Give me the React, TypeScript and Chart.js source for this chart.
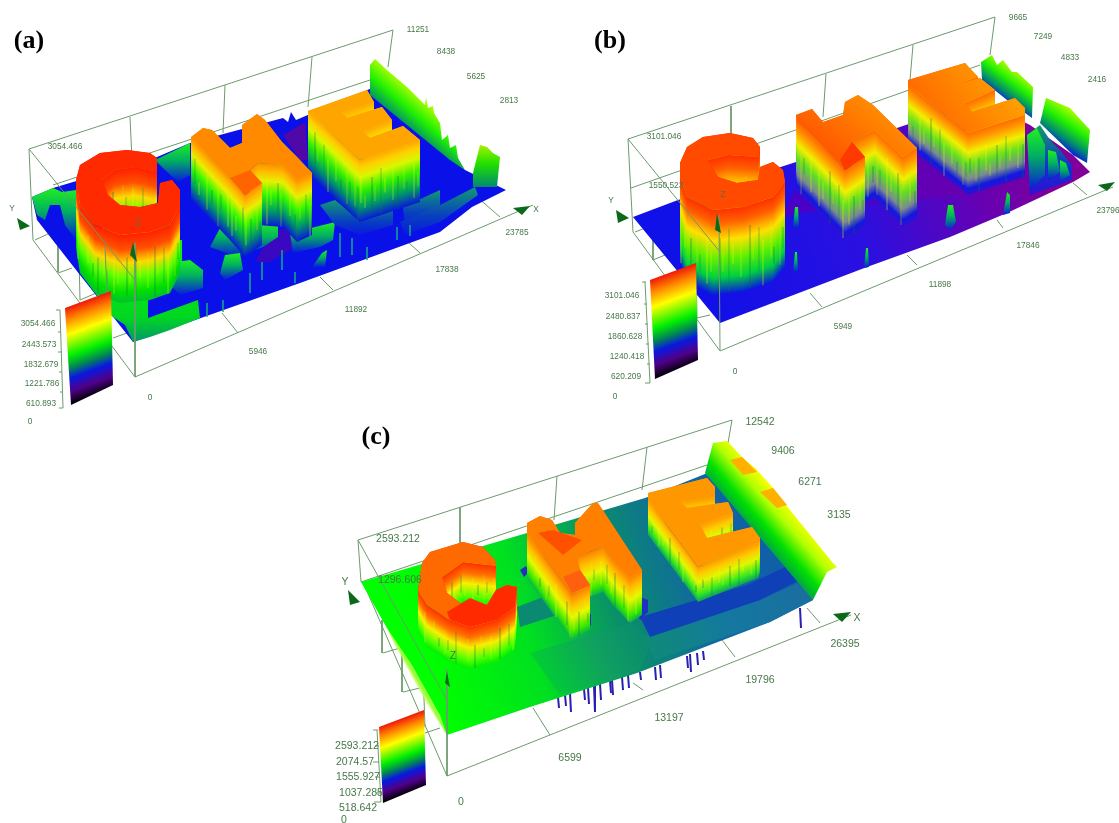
import React, { useEffect, useRef } from "react";
import { Chart, registerables } from "chart.js";
Chart.register(...registerables);

type P = number[];
const W = 1119, H = 823;

/* ---------- colour ramps ---------- */
const barStops: [number, string][] = [[0,"#f01808"],[.12,"#ff8000"],[.28,"#ffff00"],[.5,"#00f000"],[.62,"#008a50"],[.73,"#0818e0"],[.86,"#50008a"],[1,"#000000"]];
const greenBlue: [number, string][] = [[0,"#20f020"],[.45,"#00b060"],[1,"#0818e0"]];
const tealBlue: [number, string][] = [[0,"#109a70"],[.6,"#0840c0"],[1,"#0818e0"]];
const limeBlue: [number, string][] = [[0,"#b8ff00"],[.4,"#20f000"],[.75,"#008a70"],[1,"#0818e0"]];

const aCStops: [number, string][] = [[0,"#ff2000"],[.22,"#ff5000"],[.42,"#ffd800"],[.62,"#60ff00"],[.85,"#00e000"],[1,"#00c030"]];
const aHStops: [number, string][] = [[0,"#ff8c00"],[.12,"#ffb800"],[.28,"#e8f000"],[.5,"#30f800"],[.75,"#00a060"],[1,"#0818d8"]];
const aEStops: [number, string][] = [[0,"#ffa800"],[.12,"#ffd000"],[.28,"#d8f800"],[.5,"#30f000"],[.75,"#00a060"],[1,"#0818d8"]];
const bCStops: [number, string][] = [[0,"#ff3000"],[.15,"#ff6000"],[.36,"#ffe000"],[.58,"#60f000"],[.8,"#00d040"],[1,"#0818e0"]];
const bHStops: [number, string][] = [[0,"#ff6a00"],[.15,"#ffa000"],[.32,"#f0f000"],[.52,"#60e020"],[.75,"#7a8a90"],[.9,"#1018e0"],[1,"#3010d0"]];
const cCStops: [number, string][] = [[0,"#ff3000"],[.25,"#ff7000"],[.5,"#f8f000"],[.8,"#50ff00"],[1,"#00f000"]];
const cHStops: [number, string][] = [[0,"#ff8000"],[.25,"#ffc000"],[.5,"#e8f800"],[.85,"#30e800"],[1,"#10b050"]];
const cEStops: [number, string][] = [[0,"#ff9800"],[.2,"#ffc800"],[.45,"#e0f800"],[.8,"#30e820"],[1,"#10a060"]];

/* ---------- panel (a) ---------- */
const aWireBack: P[] = [[29,149,393,30],[53,185,370,80],[29,149,33,240],[130,117,132,160],[225,85,223,133],[312,57,308,107],[393,30,388,67],[33,240,135,377],[58,240,58,272],[35,240,50,233],[58,273,72,268],[80,300,115,285],[113,338,127,333],[78,213,80,300],[135,377,533,205],[222,313,238,333],[320,277,333,290],[408,242,420,253],[477,197,500,217]];
const aWireFront: P[] = [[29,149,135,280],[135,243,135,377],[105,247,107,293]];
const aBase: P[] = [[32,197],[53,188],[157,157],[190,143],[283,118],[288,122],[291,112],[296,120],[372,88],[465,170],[506,190],[472,207],[440,232],[300,283],[133,342],[80,275],[37,220]];
const aPurple1: P[] = [[270,235],[310,215],[315,235],[270,262],[255,262]];
const aPurple2: P[] = [[283,135],[305,122],[308,160],[300,160]];
const aBackGreen: P[] = [[32,197],[53,188],[62,192],[76,190],[76,240],[65,225],[60,205],[50,205],[45,220],[37,215]];
const aMidGreen: P[] = [[155,160],[190,143],[190,175],[178,182],[165,170]];
const aFrontGreen: P[] = [[76,240],[182,240],[182,262],[175,262],[165,285],[148,300],[148,318],[198,300],[200,318],[170,330],[150,337],[133,342],[125,325],[110,315],[90,285]];
const aRightWall: P[] = [[370,65],[375,59],[387,70],[407,87],[425,105],[426,97],[428,108],[433,106],[434,113],[440,123],[442,140],[448,135],[450,148],[456,145],[458,158],[465,170],[450,160],[370,95]];
const aSmallWall: P[] = [[473,187],[473,173],[480,145],[487,147],[493,153],[500,157],[497,187]];
const aRidge1: P[] = [[320,205],[335,200],[345,208],[370,217],[385,210],[393,208],[393,225],[360,235],[335,225]];
const aRidge2: P[] = [[400,222],[440,205],[475,187],[478,195],[440,222],[405,235]];
const aRidge3: P[] = [[403,207],[440,190],[440,215],[405,228]];
const aBumps: P[][] = [
  [[210,247],[220,228],[230,227],[242,233],[257,240],[262,223],[278,222],[278,237],[263,247],[237,257]],
  [[290,233],[303,230],[335,222],[333,240],[320,247],[293,253]],
  [[312,267],[322,253],[327,250],[325,267]],
  [[220,273],[225,255],[240,253],[243,270],[225,280]],
  [[170,285],[175,262],[190,260],[203,270],[203,288],[180,295]],
];
const aSpikes: P[] = [[340,233,257],[397,227,240],[367,247,260],[295,272,283],[250,273,293],[207,303,317],[223,300,312],[352,238,255],[410,225,236],[282,250,270],[262,262,280]];
const aCTop: P[] = [[76,180],[80,165],[100,153],[127,150],[150,153],[157,158],[157,172],[135,167],[115,170],[102,180],[108,195],[120,205],[140,207],[158,203],[160,183],[172,180],[180,190],[180,205],[170,225],[150,232],[120,235],[95,225],[80,205]];
const aHTop: P[] = [[191,137],[203,128],[212,130],[230,148],[242,143],[242,125],[257,114],[265,120],[282,142],[298,158],[312,173],[297,180],[283,165],[258,163],[250,170],[262,183],[245,195],[230,178]];
const aHPatch: P[] = [[230,178],[250,170],[262,183],[245,195]];
const aETop: P[] = [[308,111],[367,90],[374,102],[342,113],[347,118],[382,107],[392,120],[363,132],[370,138],[403,126],[420,140],[360,160],[352,153]];
const aColorBar: P[] = [[65,308],[111,291],[113,385],[71,405]];
const aBracket: P[] = [[60,310,63,408],[56,310,60,310],[58,332,61,332],[58,352,62,352],[59,372,62,372],[60,392,63,392],[59,408,63,408]];

/* ---------- panel (b) ---------- */
const bWireBack: P[] = [[628,139,995,17],[631,188,980,65],[628,139,633,232],[731,106,731,133],[826,74,823,117],[913,45,910,80],[995,17,990,55],[633,232,720,351],[653,217,653,260],[635,232,645,228],[653,260,665,255],[697,318,710,315],[695,217,697,318],[720,351,1113,187],[810,293,822,307],[907,255,917,265],[997,220,1003,228],[1073,183,1087,195]];
const bWireFront: P[] = [[628,139,720,252],[719,215,720,350]];
const bBase: P[] = [[633,217],[678,200],[793,163],[980,100],[1030,125],[1073,155],[1090,172],[1073,182],[1007,213],[950,237],[867,267],[720,323]];
const bPurple: P[] = [[783,215],[800,180],[1000,130],[1060,170],[1000,190]];
const bRight1: P[] = [[981,62],[992,55],[997,65],[1003,60],[1012,72],[1017,72],[1033,87],[1032,118],[1007,100],[982,80]];
const bRight2: P[] = [[1040,123],[1046,98],[1070,108],[1090,130],[1087,163],[1073,155]];
const bStairs: P[] = [[1027,135],[1040,125],[1050,140],[1060,150],[1072,165],[1072,180],[1030,195]];
const bBumps: P[][] = [
  [[720,285],[724,265],[733,262],[737,268],[737,283],[728,290]],
  [[793,228],[795,207],[798,207],[799,228]],
  [[793,272],[795,252],[797,252],[798,272]],
  [[864,268],[866,248],[868,248],[869,267]],
  [[945,225],[948,205],[953,205],[956,222],[950,230]],
  [[1003,215],[1007,192],[1010,195],[1010,213]],
  [[1027,135],[1037,128],[1045,145],[1045,175],[1030,190]],
  [[1048,150],[1056,152],[1060,172],[1048,180]],
  [[1060,160],[1066,163],[1070,175],[1060,182]],
];
const bCTop: P[] = [[680,163],[687,147],[703,137],[730,133],[753,138],[760,147],[758,157],[728,155],[708,160],[718,177],[737,183],[758,180],[760,167],[773,162],[783,170],[785,182],[773,197],[743,207],[713,210],[687,197],[680,177]];
const bHTop: P[] = [[796,115],[812,109],[823,122],[843,115],[845,102],[858,95],[873,105],[917,148],[903,157],[875,130],[852,142],[865,157],[845,170],[813,137],[797,122]];
const bHPatch: P[] = [[852,142],[865,157],[845,170],[840,160]];
const bETop: P[] = [[908,80],[965,63],[978,77],[947,87],[980,78],[995,90],[965,103],[972,112],[1015,98],[1025,108],[1025,115],[968,133],[908,85]];
const bColorBar: P[] = [[650,280],[696,263],[698,360],[655,379]];
const bBracket: P[] = [[645,282,650,383],[642,282,646,282],[644,304,647,304],[645,324,648,324],[646,344,649,344],[647,364,650,364],[645,383,650,383]];

/* ---------- panel (c) ---------- */
const cWireBack: P[] = [[358,540,732,420],[361,582,707,465],[358,540,361,582],[382,620,382,653],[460,507,460,545],[557,476,554,520],[647,447,642,490],[732,420,728,443],[363,582,447,776],[383,653,400,648],[403,692,420,688],[425,733,440,728],[402,620,402,692],[423,670,425,727],[447,776,851,615],[533,708,550,735],[633,683,643,690],[722,640,735,657],[807,608,820,623]];
const cWireFront: P[] = [[358,540,447,700],[447,670,447,776]];
const cBase: P[] = [[361,582],[527,533],[645,498],[710,472],[813,600],[770,622],[637,673],[530,707],[447,735]];
const cFade: P[] = [[385,625],[412,665],[440,715],[447,735],[425,700],[395,645]];
const cBlueStripe: P[] = [[640,617],[747,585],[785,567],[800,580],[760,600],[650,637]];
const cFrontStripe: P[] = [[643,637],[760,600],[800,582],[813,600],[770,622],[655,660]];
const cTeal1: P[] = [[517,607],[543,597],[557,615],[520,627]];
const cTeal2: P[] = [[530,653],[632,623],[652,640],[640,670],[560,695]];
const cTeal3: P[] = [[552,560],[620,538],[630,552],[562,575]];
const cRight: P[] = [[705,473],[713,443],[727,441],[743,458],[755,468],[775,490],[790,510],[833,563],[837,567],[827,572],[813,600]];
const cOrange1: P[] = [[730,460],[742,457],[757,472],[743,475]];
const cOrange2: P[] = [[760,492],[773,488],[787,505],[777,508]];
const cBlobs: P[][] = [
  [[520,570],[526,566],[529,572],[524,577]],
  [[637,610],[640,597],[648,600],[648,612],[640,620]],
  [[586,616],[591,614],[591,625],[586,626]],
];
const cCTop: P[] = [[418,590],[422,563],[430,552],[463,542],[483,547],[495,560],[496,566],[463,562],[442,577],[447,593],[463,605],[487,605],[496,590],[507,585],[517,587],[515,607],[497,620],[470,627],[450,620],[427,605]];
const cCPatch: P[] = [[447,612],[470,598],[487,605],[496,590],[507,585],[517,587],[515,607],[497,620],[470,627],[450,620]];
const cHTop: P[] = [[527,523],[540,516],[552,520],[560,533],[575,535],[575,523],[593,503],[598,503],[642,570],[630,578],[613,560],[603,547],[577,557],[580,570],[590,585],[572,595],[527,533]];
const cHPatch1: P[] = [[538,533],[553,530],[582,540],[563,555]];
const cHPatch2: P[] = [[563,577],[580,570],[590,585],[572,593]];
const cETop: P[] = [[648,493],[707,478],[715,487],[715,497],[680,502],[687,508],[728,502],[733,513],[700,525],[707,538],[752,527],[760,538],[758,543],[698,567],[648,500]];
const cColorBar: P[] = [[379,727],[424,710],[426,785],[383,803]];
const cBracket: P[] = [[377,730,381,802],[373,730,378,730],[375,746,379,746],[373,762,379,762],[375,777,380,777],[376,793,381,793],[374,802,381,802]];
const cSpikes: P[] = [[558,697,708],[565,695,706],[570,693,712],[584,689,700],[588,688,704],[594,686,712],[600,684,700],[610,680,693],[612,680,695],[622,677,690],[628,675,688],[640,672,680],[655,667,680],[660,665,678],[687,656,668],[690,654,672],[697,653,665],[703,651,660],[800,608,628]];

/* ---------- arrows, labels ---------- */
const arrows: P[][] = [
  [[513,208],[530,206],[522,215]],[[17,218],[30,226],[20,230]],[[133,242],[137,262],[130,255]],
  [[1098,185],[1115,182],[1107,191]],[[616,210],[629,218],[618,223]],[[717,213],[721,233],[715,230]],
  [[833,614],[851,612],[842,622]],[[348,590],[360,602],[350,605]],[[447,672],[450,687],[445,683]],
];
const titleLabels: [string, number, number][] = [["(a)",29,41],["(b)",610,41],["(c)",376,437]];
const hiddenLabels: [string, number, number][] = [["1527.233",66,194]];
const smallLabels: [string, number, number][] = [
  ["3054.466",65,147],["11251",418,30],["8438",446,52],["5625",476,77],["2813",509,101],["5946",258,352],["11892",356,310],["17838",447,270],["23785",517,233],["0",150,398],
  ["3054.466",38,324],["2443.573",39,345],["1832.679",41,365],["1221.786",42,384],["610.893",41,404],["0",30,422],["Y",12,209],["X",536,210],["Z",138,223],
  ["3101.046",664,137],["1550.523",666,186],["9665",1018,18],["7249",1043,37],["4833",1070,58],["2416",1097,80],["5949",843,327],["11898",940,285],["17846",1028,246],["23796",1108,211],["0",735,372],
  ["3101.046",622,296],["2480.837",623,317],["1860.628",625,337],["1240.418",627,357],["620.209",626,377],["0",615,397],["Y",611,201],["Z",723,195],
];
const largeLabels: [string, number, number][] = [
  ["2593.212",398,539],["1296.606",400,580],["12542",760,422],["9406",783,451],["6271",810,482],["3135",839,515],["26395",845,644],["19796",760,680],["13197",669,718],["6599",570,758],["0",461,802],
  ["2593.212",357,746],["2074.57",355,762],["1555.927",358,777],["1037.285",361,793],["518.642",358,808],["0",344,820],["X",857,618],["Y",345,582],["Z",453,656],
];

/* irregular streak rhythm seen on the letter walls */
const streakGap = [4, 7, 3, 6, 5, 8, 4, 6, 3, 7];
const streakFrom = [.3, .42, .24, .5, .34, .6, .28, .46];
const streakTo = [.82, .66, .98, .74, .9, .8, .7, 1];
const streakCol = ["rgba(240,255,0,.3)", "rgba(0,130,60,.26)", "rgba(255,230,0,.22)", "rgba(0,110,70,.3)", "rgba(200,255,0,.3)"];

/* ---------- helpers turning the arrays into datasets ---------- */
type Paint = string | { g: number[]; stops: [number, string][] };
const ds: any[] = [];

function poly(pts: P[], paint: Paint) {
  const data = [...pts, pts[0]].map(([x, y]) => ({ x, y }));
  ds.push({
    data, showLine: true, pointRadius: 0, borderWidth: 0, tension: 0, fill: "shape", order: -ds.length,
    backgroundColor: (c: any) => {
      if (typeof paint === "string") return paint;
      const s = c.chart.scales;
      const [a, b, e, f] = paint.g;
      const x0 = s.x?.getPixelForValue(a), y0 = s.y?.getPixelForValue(b), x1 = s.x?.getPixelForValue(e), y1 = s.y?.getPixelForValue(f);
      if (![x0, y0, x1, y1].every(Number.isFinite)) return paint.stops[0][1];
      const gr = c.chart.ctx.createLinearGradient(x0, y0, x1, y1);
      paint.stops.forEach(([o, col]) => gr.addColorStop(o, col));
      return gr;
    },
  });
}
function vfill(pts: P[], stops: [number, string][]) {
  const ys = pts.map(p => p[1]);
  poly(pts, { g: [0, Math.min(...ys), 0, Math.max(...ys)], stops });
}
function line(seg: P, color: string, width = 1) {
  ds.push({
    data: [{ x: seg[0], y: seg[1] }, { x: seg[2], y: seg[3] }],
    showLine: true, pointRadius: 0, borderWidth: width, borderColor: color, fill: false, order: -ds.length,
  });
}
function extrude(top: P[], h: number, stops: [number, string][], face: Paint) {
  let area = 0;
  top.forEach((p, i) => { const q = top[(i + 1) % top.length]; area += p[0] * q[1] - q[0] * p[1]; });
  const sign = area > 0 ? 1 : -1;
  const edges = top.map((p, i) => [p, top[(i + 1) % top.length]]);
  edges.sort((u, v) => u[0][1] + u[1][1] - v[0][1] - v[1][1]);
  let k = 0;
  for (const [a, b] of edges) {
    const dx = b[0] - a[0], dy = b[1] - a[1];
    const len = Math.hypot(dx, dy) || 1;
    const nx = -dy / len, ny = dx / len;
    const d = ny * h;
    poly([a, b, [b[0], b[1] + h], [a[0], a[1] + h]], {
      g: [a[0], a[1], a[0] + nx * d + 0.001, a[1] + ny * d + 0.001], stops,
    });
    if (-dx * sign > 0) {
      for (let t = 2; t < Math.abs(dx); t += streakGap[k % streakGap.length]) {
        const f = t / Math.abs(dx);
        const x = a[0] + dx * f, y = a[1] + dy * f;
        line([x, y + h * streakFrom[k % streakFrom.length], x, y + h * streakTo[k % streakTo.length]], streakCol[k % streakCol.length], 1.6);
        k++;
      }
    }
  }
  poly(top, face);
}
function colorBar(pts: P[]) {
  const dx = pts[1][0] - pts[0][0], dy = pts[1][1] - pts[0][1];
  const len = Math.hypot(dx, dy);
  const nx = -dy / len, ny = dx / len;
  const h = pts[3][1] - pts[0][1];
  const d = nx * (pts[3][0] - pts[0][0]) + ny * h;
  poly(pts, { g: [pts[0][0], pts[0][1], pts[0][0] + nx * d, pts[0][1] + ny * d], stops: barStops });
}

const WIRE = "#6d9a6d";
const TICK = "#47784a";

/* panel (a) */
aWireBack.forEach(s => line(s, WIRE));
poly(aBase, "#0a10e8");
poly(aPurple1, "#3a08c0");
poly(aPurple2, "#5008a8");
poly(aRightWall, { g: [415, 90, 385, 125], stops: limeBlue });
vfill(aSmallWall, [[0,"#a8f000"],[.45,"#20e000"],[1,"#008a70"]]);
vfill(aBackGreen, greenBlue);
vfill(aMidGreen, greenBlue);
vfill(aFrontGreen, [[0,"#10f010"],[.75,"#00d820"],[1,"#009868"]]);
vfill(aRidge3, tealBlue);
aBumps.forEach(b => vfill(b, greenBlue));
vfill(aRidge1, tealBlue);
vfill(aRidge2, tealBlue);
aSpikes.forEach(s => line([s[0], s[1], s[0], s[2]], "rgba(20,170,130,.75)", 2));
extrude(aETop, 62, aEStops, "#ffa500");
extrude(aHTop, 62, aHStops, "#ff8a00");
poly(aHPatch, "#ff6400");
extrude(aCTop, 68, aCStops, "#ff2a00");

/* panel (b) */
bWireBack.forEach(s => line(s, WIRE));
poly(bBase, { g: [700, 300, 1060, 170], stops: [[0,"#1010e8"],[.45,"#2a10e0"],[.8,"#6a00b0"],[1,"#800098"]] });
poly(bPurple, { g: [800, 200, 1060, 160], stops: [[0,"#4a00c8"],[1,"#7a00a0"]] });
poly(bRight1, { g: [1015, 68, 995, 95], stops: limeBlue });
poly(bRight2, { g: [1072, 108, 1050, 140], stops: limeBlue });
vfill(bStairs, [[0,"#10a060"],[.6,"#1030d0"],[1,"#3010d0"]]);
bBumps.forEach(b => vfill(b, greenBlue));
extrude(bETop, 62, bHStops, { g: [1000, 70, 930, 120], stops: [[0,"#ffa000"],[1,"#ff6a00"]] });
extrude(bHTop, 70, bHStops, { g: [870, 100, 830, 150], stops: [[0,"#ff8c00"],[1,"#ff5a00"]] });
poly(bHPatch, "#ff3a00");
extrude(bCTop, 85, bCStops, "#ff4a00");

/* panel (c) */
cWireBack.forEach(s => line(s, WIRE));
cSpikes.forEach(s => line([s[0], s[1], s[0] + 1, s[2]], "#2a20b0", 2));
poly(cBase, { g: [420, 640, 760, 540], stops: [[0,"#00ff00"],[.3,"#00e020"],[.55,"#0a9068"],[.8,"#1068a0"],[1,"#1060a8"]] });
poly(cFade, "rgba(190,255,80,.8)");
poly(cTeal1, "#0a8a70");
poly(cTeal2, { g: [545, 690, 650, 640], stops: [[0,"#00d030"],[.55,"#10a060"],[1,"#0a8a70"]] });
poly(cTeal3, "#0a8a70");
poly(cFrontStripe, { g: [650, 650, 810, 595], stops: [[0,"#0f8a78"],[.5,"#1478a0"],[1,"#1a6ea0"]] });
poly(cBlueStripe, "#1040b8");
cBlobs.forEach(b => poly(b, "#2030c0"));
poly(cRight, { g: [785, 500, 745, 535], stops: [[0,"#ffff00"],[.28,"#b0ff00"],[.6,"#00e000"],[1,"#008070"]] });
poly(cOrange1, "#ffb000");
poly(cOrange2, "#ffb000");
extrude(cETop, 35, cEStops, "#ff9800");
extrude(cHTop, 45, cHStops, "#ff8000");
poly(cHPatch1, "#ff5000");
poly(cHPatch2, "#ff6010");
extrude(cCTop, 42, cCStops, "#ff6a00");
poly(cCPatch, "#ff2a00");

/* front wires, colour bars, arrows */
[...aWireFront, ...bWireFront, ...cWireFront].forEach(s => line(s, WIRE));
[aColorBar, bColorBar, cColorBar].forEach(colorBar);
[...aBracket, ...bBracket, ...cBracket].forEach(s => line(s, WIRE));
arrows.forEach(a => poly(a, "#0a6a1a"));

const textPlugin = {
  id: "chartText",
  beforeDatasetsDraw(chart: any) {
    const { ctx, scales } = chart;
    ctx.save();
    ctx.textAlign = "center"; ctx.textBaseline = "middle";
    ctx.fillStyle = TICK; ctx.font = '8.3px "Liberation Sans"';
    hiddenLabels.forEach(([t, x, y]) => ctx.fillText(t, scales.x.getPixelForValue(x), scales.y.getPixelForValue(y)));
    ctx.restore();
  },
  afterDatasetsDraw(chart: any) {
    const { ctx, scales } = chart;
    const put = (arr: [string, number, number][], font: string, col: string) => {
      ctx.font = font; ctx.fillStyle = col;
      arr.forEach(([t, x, y]) => ctx.fillText(t, scales.x.getPixelForValue(x), scales.y.getPixelForValue(y)));
    };
    ctx.save();
    ctx.textAlign = "center"; ctx.textBaseline = "middle";
    put(smallLabels, '8.3px "Liberation Sans"', TICK);
    put(largeLabels, '10.5px "Liberation Sans"', TICK);
    put(titleLabels, 'bold 26px "Liberation Serif"', "#000000");
    ctx.restore();
  },
};

export default function App() {
  const ref = useRef<HTMLCanvasElement>(null);
  useEffect(() => {
    const chart = new Chart(ref.current!, {
      type: "scatter",
      data: { datasets: ds },
      options: {
        animation: false, responsive: false, devicePixelRatio: 1,
        layout: { padding: 0 },
        plugins: { legend: { display: false }, tooltip: { enabled: false } },
        scales: {
          x: { type: "linear", min: 0, max: W, display: false },
          y: { type: "linear", min: 0, max: H, reverse: true, display: false },
        },
      },
      plugins: [textPlugin],
    } as any);
    return () => chart.destroy();
  }, []);
  return (
    <div style={{ position: "absolute", left: 0, top: 0, width: W, height: H, background: "#fff" }}>
      <canvas ref={ref} width={W} height={H} style={{ display: "block", filter: "blur(0.5px)" }} />
    </div>
  );
}
